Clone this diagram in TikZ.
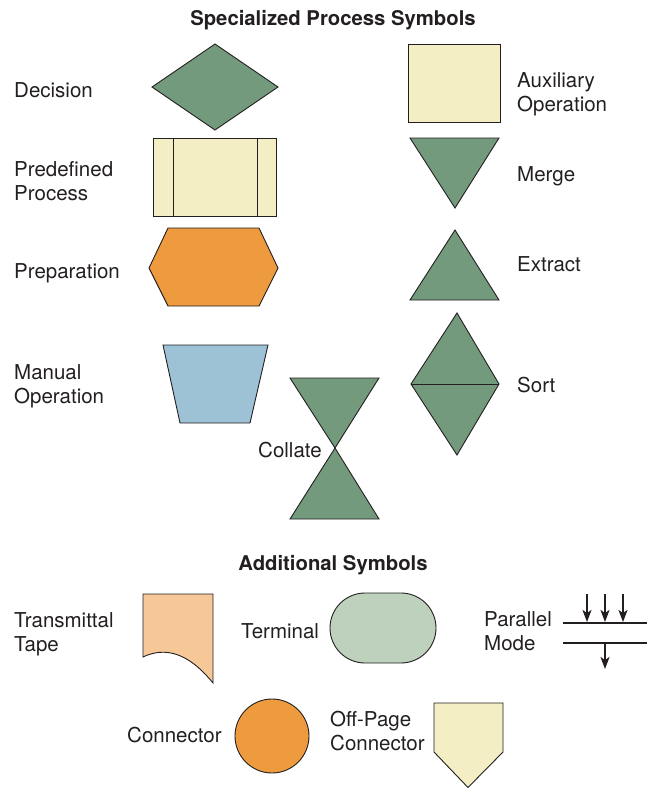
\documentclass[tikz,border=0pt]{standalone}
\usepackage{fontspec}
\setmainfont{TeX Gyre Heros}
\usepackage{xcolor}
\usetikzlibrary{arrows.meta}

\definecolor{ink}{HTML}{231F20}
\definecolor{symgreen}{HTML}{739A7C}
\definecolor{symcream}{HTML}{F3EEC4}
\definecolor{symorange}{HTML}{EE9A3E}
\definecolor{symblue}{HTML}{9DC1D5}
\definecolor{symsage}{HTML}{BDD1BC}
\definecolor{sympeach}{HTML}{F7C897}

\begin{document}
\begin{tikzpicture}[x=1pt, y=-1pt,
  shape line/.style={draw=ink, line width=0.9pt, line join=miter},
  lbl/.style={anchor=base west, inner sep=0pt, align=left, text=ink, font=\fontsize{20.5}{24}\selectfont},
  heading/.style={anchor=base, inner sep=0pt, text=ink, font=\fontsize{20.3}{24}\selectfont\bfseries},
  bar/.style={draw=ink, line width=2.3pt},
  flow/.style={draw=ink, line width=2pt, -{Stealth[length=12pt, width=9pt, inset=3pt]}}]
\useasboundingbox (0,0) rectangle (647,788);

\node[heading] (title1) at (333,25) {Specialized Process Symbols};

\draw[shape line, fill=symgreen] (152,87) -- (215,44) -- (278,87) -- (215,130) -- cycle;
\node[lbl] (decision) at (14,97) {Decision};

\draw[shape line, fill=symcream] (408,44) rectangle (500,122);
\node[lbl] (aux) at (517,111) {Auxiliary\\Operation};

\draw[shape line, fill=symcream] (153,138) rectangle (276,216);
\draw[shape line] (173,138) -- (173,216);
\draw[shape line] (257,138) -- (257,216);
\node[lbl] (predef) at (14,200) {Predefined\\Process};

\draw[shape line, fill=symgreen] (410,138) -- (499,138) -- (455,208) -- cycle;
\node[lbl] (merge) at (517,181) {Merge};

\draw[shape line, fill=symorange] (149,268) -- (168,228) -- (259,228) -- (278,268) -- (259,306) -- (168,306) -- cycle;
\node[lbl] (prep) at (14,278) {Preparation};

\draw[shape line, fill=symgreen] (455,230) -- (499,300) -- (410,300) -- cycle;
\node[lbl] (extract) at (517,271) {Extract};

\draw[shape line, fill=symblue] (163,345) -- (268,345) -- (250,423) -- (180,423) -- cycle;
\node[lbl] (manual) at (14,403) {Manual\\Operation};

\draw[shape line, fill=symgreen] (457,313) -- (499,384) -- (457,455) -- (411,384) -- cycle;
\draw[shape line] (411,384) -- (499,384);
\node[lbl] (sort) at (517,392) {Sort};

\draw[shape line, fill=symgreen] (290,378) -- (379,378) -- (335,448) -- cycle;
\draw[shape line, fill=symgreen] (335,448) -- (379,519) -- (290,519) -- cycle;
\node[lbl] (collate) at (258,457) {Collate};

\node[heading] (title2) at (333,570) {Additional Symbols};

\draw[shape line, fill=sympeach] (143,657) -- (143,594) -- (213,594) -- (213,683)
  .. controls (196,662) and (172,643) .. (143,657) -- cycle;
\node[lbl] (tape) at (14,651) {Transmittal\\Tape};

\draw[shape line, fill=symsage, rounded corners=35pt] (330,593) rectangle (436,663);
\node[lbl] (terminal) at (241,638) {Terminal};

\coordinate (barL1) at (563,623);
\coordinate (barR1) at (647,623);
\coordinate (barL2) at (563,643);
\coordinate (barR2) at (647,643);
\draw[bar] (barL1) -- (barR1);
\draw[bar] (barL2) -- (barR2);
\foreach \i/\px in {1/587, 2/605, 3/623} {
  \coordinate (in\i) at (\px,594);
  \coordinate (hit\i) at (\px,622);
  \draw[flow] (in\i) -- (hit\i);
}
\coordinate (outS) at (605,644);
\coordinate (outE) at (605,669);
\draw[flow] (outS) -- (outE);
\node[lbl] (parallel) at (484,650) {Parallel\\Mode};

\draw[shape line, fill=symorange] (272,736) circle (37);
\node[lbl] (conn) at (127,742) {Connector};

\draw[shape line, fill=symcream] (434,703) -- (503,703) -- (503,752) -- (468,787.5) -- (434,752) -- cycle;
\node[lbl] (offpage) at (330,750) {Off-Page\\Connector};
\end{tikzpicture}
\end{document}
